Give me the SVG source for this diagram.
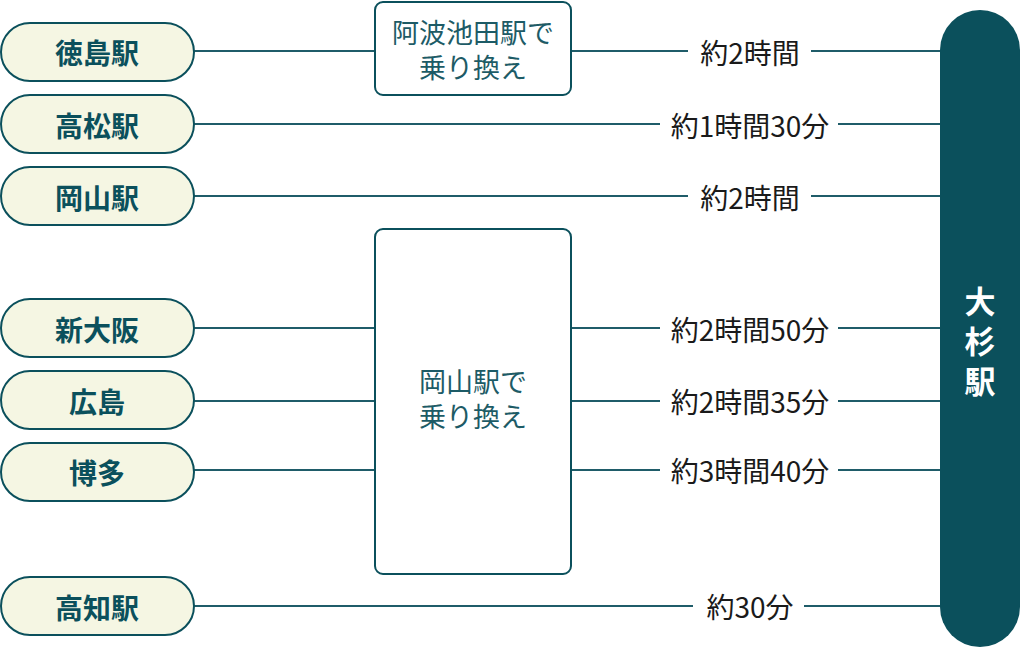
<svg xmlns="http://www.w3.org/2000/svg" width="1020" height="648" viewBox="0 0 1020 648">
<style>
.pill{fill:#f5f6e3;stroke:#0b505c;stroke-width:2}
.pt{font-family:"Noto Sans CJK JP","Noto Sans",sans-serif;font-weight:700;font-size:28px;fill:#0b505c;text-anchor:middle;dominant-baseline:central}
.box{fill:#fff;stroke:#0b505c;stroke-width:2}
.bt{font-family:"Liberation Sans","Noto Sans CJK JP",sans-serif;font-size:27px;fill:#1d5b66;text-anchor:middle;dominant-baseline:central}
.lt{font-family:"Noto Sans CJK JP","Noto Sans",sans-serif;font-size:28px;fill:#1a1a1a;text-anchor:middle;dominant-baseline:central}
.ln{stroke:#1f5c69;stroke-width:2;fill:none}
.bar{fill:#0b505c}
.bart{font-family:"Liberation Sans","Noto Sans CJK JP",sans-serif;font-weight:700;font-size:31px;fill:#fff;text-anchor:middle;dominant-baseline:central}
</style>
<g id="connectors">
<path class="ln" d="M194 51H375M571 51H688M811 51H940"/>
<path class="ln" d="M194 124H660M838 124H940"/>
<path class="ln" d="M194 196H688M811 196H940"/>
<path class="ln" d="M194 328H375M571 328H660M838 328H940"/>
<path class="ln" d="M194 401H375M571 401H660M838 401H940"/>
<path class="ln" d="M194 470H375M571 470H660M838 470H940"/>
<path class="ln" d="M194 606H693M804 606H940"/>
</g>
<g id="labels">
<text class="lt" x="750" y="52">約2時間</text>
<text class="lt" x="750" y="125">約1時間30分</text>
<text class="lt" x="750" y="197">約2時間</text>
<text class="lt" x="750" y="329">約2時間50分</text>
<text class="lt" x="750" y="401">約2時間35分</text>
<text class="lt" x="750" y="470">約3時間40分</text>
<text class="lt" x="750" y="606">約30分</text>
</g>
<g id="tokushima"><rect class="pill" x="1" y="23" width="193" height="58" rx="29"/><text class="pt" x="97" y="52">徳島駅</text></g>
<g id="takamatsu"><rect class="pill" x="1" y="95" width="193" height="58" rx="29"/><text class="pt" x="97" y="125">高松駅</text></g>
<g id="okayama"><rect class="pill" x="1" y="167" width="193" height="58" rx="29"/><text class="pt" x="97" y="197">岡山駅</text></g>
<g id="shinosaka"><rect class="pill" x="1" y="299" width="193" height="58" rx="29"/><text class="pt" x="97" y="329">新大阪</text></g>
<g id="hiroshima"><rect class="pill" x="1" y="371" width="193" height="58" rx="29"/><text class="pt" x="97" y="401">広島</text></g>
<g id="hakata"><rect class="pill" x="1" y="443" width="193" height="58" rx="29"/><text class="pt" x="97" y="472">博多</text></g>
<g id="kochi"><rect class="pill" x="1" y="577" width="193" height="58" rx="29"/><text class="pt" x="97" y="607">高知駅</text></g>
<g id="awaikeda"><rect class="box" x="375" y="2" width="196" height="93" rx="8"/><text class="bt" x="473" y="34">阿波池田駅で<tspan x="473" dy="35">乗り換え</tspan></text></g>
<g id="okayama-transfer"><rect class="box" x="375" y="229" width="196" height="345" rx="8"/><text class="bt" x="473" y="383">岡山駅で<tspan x="473" dy="35">乗り換え</tspan></text></g>
<g id="oosugi"><rect class="bar" x="940" y="10" width="80" height="637" rx="40"/><text class="bart" x="980" y="302">大<tspan x="980" dy="40">杉</tspan><tspan x="980" dy="40">駅</tspan></text></g>
</svg>
